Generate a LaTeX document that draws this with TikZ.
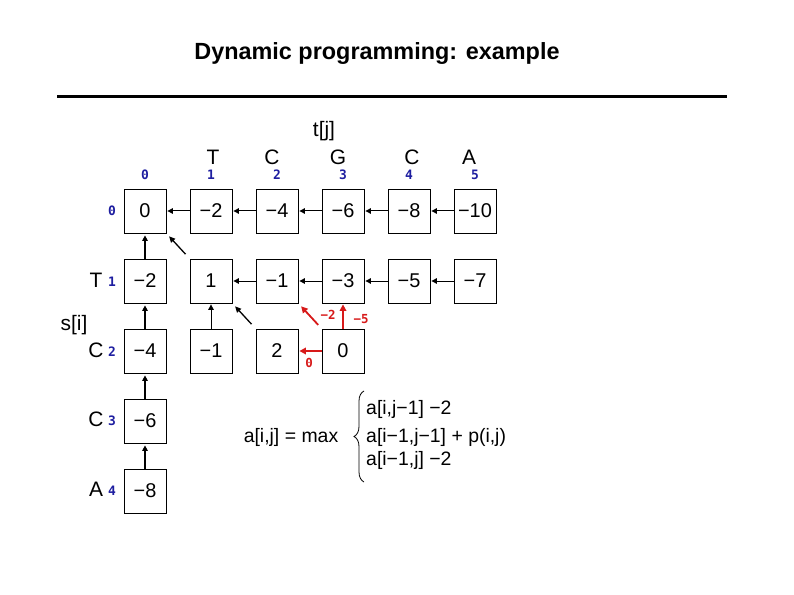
\documentclass[tikz,border=0pt]{standalone}
\usepackage{fontspec}
\setmainfont{Liberation Sans}
\newfontfamily\idxfont{DejaVu Sans Mono}
\usepackage{xcolor}
\usetikzlibrary{arrows.meta,positioning,decorations.pathreplacing}

\definecolor{idxblue}{RGB}{30,30,160}
\definecolor{pathred}{RGB}{215,25,25}

\tikzset{
  cell/.style={draw, line width=0.8bp, minimum width=42bp, minimum height=44bp, inner sep=0pt, font=\fontsize{20}{24}\selectfont},
  letter/.style={inner sep=0pt, font=\fontsize{21}{25}\selectfont},
  idx/.style={inner sep=0pt, text height=9bp, text depth=0pt, text=idxblue, font=\idxfont\bfseries\fontsize{13}{15}\selectfont},
  redlbl/.style={inner sep=0pt, text height=9bp, text depth=0pt, text=pathred, font=\idxfont\bfseries\fontsize{12.5}{15}\selectfont},
  formula/.style={inner sep=0pt, font=\fontsize{19.5}{23}\selectfont},
  back/.style={-{Triangle[length=5.5bp,width=5.5bp]}, line width=1bp, shorten >=1bp},
  backup/.style={-{Triangle[length=5.5bp,width=5.5bp]}, line width=1.8bp, shorten >=2bp},
  diag/.style={-{Triangle[length=6bp,width=5.5bp]}, line width=1.3bp, shorten <=6bp, shorten >=4bp},
  best/.style={-{Triangle[length=6.5bp,width=6.5bp]}, line width=1.8bp, color=pathred, shorten >=1bp}
}

\begin{document}
\begin{tikzpicture}[x=1bp, y=-1bp, node distance=70bp and 66bp, on grid]
  \useasboundingbox (0,0) rectangle (794,595);

  \node[font=\bfseries\fontsize{23.5}{28}\selectfont] (title) at (377,54) {Dynamic programming: example};
  \draw[line width=3bp] (57,97) -- (727,97);

  % table a[i,j]
  \node[cell] (a00) at (145,211) {0};
  \node[cell, right=of a00] (a01) {−2};
  \node[cell, right=of a01] (a02) {−4};
  \node[cell, right=of a02] (a03) {−6};
  \node[cell, right=of a03] (a04) {−8};
  \node[cell, right=of a04] (a05) {−10};

  \node[cell, below=of a00] (a10) {−2};
  \node[cell, right=of a10] (a11) {1};
  \node[cell, right=of a11] (a12) {−1};
  \node[cell, right=of a12] (a13) {−3};
  \node[cell, right=of a13] (a14) {−5};
  \node[cell, right=of a14] (a15) {−7};

  \node[cell, below=of a10] (a20) {−4};
  \node[cell, right=of a20] (a21) {−1};
  \node[cell, right=of a21] (a22) {2};
  \node[cell, right=of a22] (a23) {0};

  \node[cell, below=of a20] (a30) {−6};
  \node[cell, below=of a30] (a40) {−8};

  % t[j]
  \node[letter] (tj) at (324,131) {t[j]};
  \node[letter] (t1) at (213,157) {T};
  \node[letter] (t2) at (272,157) {C};
  \node[letter] (t3) at (338,157) {G};
  \node[letter] (t4) at (412,157) {C};
  \node[letter] (t5) at (469,157) {A};
  \node[idx] (j0) at (145,175) {0};
  \node[idx] (j1) at (211,175) {1};
  \node[idx] (j2) at (277,175) {2};
  \node[idx] (j3) at (343,175) {3};
  \node[idx] (j4) at (409,175) {4};
  \node[idx] (j5) at (475,175) {5};

  % s[i]
  \node[letter] (si) at (74,325) {s[i]};
  \node[idx] (i0) at (112,211) {0};
  \node[letter] (s1) at (96,280) {T};
  \node[letter] (s2) at (96,350) {C};
  \node[letter] (s3) at (96,419) {C};
  \node[letter] (s4) at (96,489) {A};
  \node[idx] (i1) at (112,282) {1};
  \node[idx] (i2) at (112,352) {2};
  \node[idx] (i3) at (112,421) {3};
  \node[idx] (i4) at (112,491) {4};

  % back pointers
  \draw[back] (a01) -- (a00);
  \draw[back] (a02) -- (a01);
  \draw[back] (a03) -- (a02);
  \draw[back] (a04) -- (a03);
  \draw[back] (a05) -- (a04);
  \draw[backup] (a10) -- (a00);
  \draw[backup] (a20) -- (a10);
  \draw[backup] (a30) -- (a20);
  \draw[backup] (a40) -- (a30);
  \draw[diag] (a11.north west) -- (a00.south east);
  \draw[back] (a12) -- (a11);
  \draw[back] (a13) -- (a12);
  \draw[back] (a14) -- (a13);
  \draw[back] (a15) -- (a14);
  \draw[back] (a21) -- (a11);
  \draw[diag] (a22.north west) -- (a11.south east);

  % the three choices for a[2,3]
  \draw[best] (a23) -- (a22);
  \draw[best] (a23) -- (a13);
  \draw[best, shorten <=5bp, shorten >=4bp] (a23.north west) -- (a12.south east);
  \node[redlbl] (l0) at (309,363) {0};
  \node[redlbl] (l2) at (328,315) {−2};
  \node[redlbl] (l5) at (361,319) {−5};

  % recurrence
  \node[formula] (lhs) at (291,437) {a[i,j] = max};
  \coordinate (bb) at (364,482);
  \coordinate (bt) at (364,391);
  \draw[line width=0.8bp, decorate, decoration={brace, amplitude=10bp}] (bb) -- (bt);
  \node[formula, anchor=west] (r1) at (366,409) {a[i,j−1] −2};
  \node[formula, anchor=west] (r2) at (366,437) {a[i−1,j−1] + p(i,j)};
  \node[formula, anchor=west] (r3) at (366,460) {a[i−1,j] −2};
\end{tikzpicture}
\end{document}
